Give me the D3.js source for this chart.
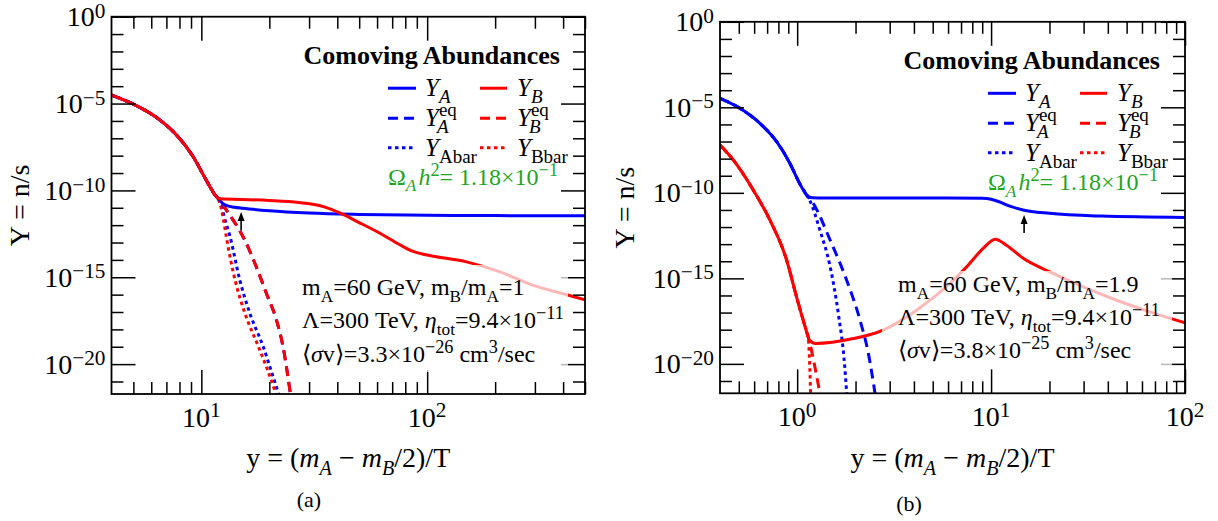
<!DOCTYPE html>
<html><head><meta charset="utf-8">
<script src="https://cdn.jsdelivr.net/npm/d3@7"></script>
<style>
body{margin:0;background:#fff}
svg{display:block}
text{font-family:"Liberation Serif","Times New Roman",serif;fill:#000}
</style>
</head><body>
<svg id="chart" width="1218" height="521"></svg>
<script>
// ================= DATA =================
// y axis (log10 exponents)
const yMajorExp = [0, -5, -10, -15, -20];
const yMinorExp = [-1,-2,-3,-4,-6,-7,-8,-9,-11,-12,-13,-14,-16,-17,-18,-19,-21];
const yLowExp = -21.72;

// panel (a): x axis
const aXDomain = [4, 500];
const aXMajor = [10, 100];
const aXMinor = [5,6,7,8,9,20,30,40,50,60,70,80,90,200,300,400,500];
// panel (b): x axis
const bXDomain = [0.4, 100];
const bXMajor = [1, 10, 100];
const bXMinor = [0.5,0.6,0.7,0.8,0.9,2,3,4,5,6,7,8,9,20,30,40,50,60,70,80,90];

// ---- panel (a): mB/mA = 1 ; values are log10(Y) ----
const a_early_x   = [4, 5.08, 6.56, 7.76, 9.2, 10.5, 11.5];
const a_early_lgY = [-4.51, -5.08, -5.95, -6.81, -8.06, -9.40, -10.26];
const a_YA_x   = [11.9, 12.3, 12.8, 14, 15.3, 20, 30, 50, 100, 200, 500];
const a_YA_lgY = [-10.45, -10.7, -10.85, -10.97, -11.03, -11.17, -11.3, -11.38, -11.43, -11.45, -11.46];
const a_YB_x   = [11.9, 12.5, 15, 20, 27, 35, 41, 50, 61.5, 75, 86, 100, 148, 209, 293, 400, 500];
const a_YB_lgY = [-10.45, -10.5, -10.52, -10.58, -10.7, -10.95, -11.3, -11.85, -12.45, -13.1, -13.5, -13.72, -14.1, -14.68, -15.45, -15.95, -16.3];
const a_eq_x   = [12.1, 13.2, 15.3, 17.5, 19.4, 21.5, 23.0, 24.8];
const a_eq_lgY = [-10.6, -11.32, -12.67, -14.39, -15.92, -17.46, -19.0, -21.72];
const a_Abar_x   = [12.1, 12.8, 13.4, 14.8, 16.4, 18.8, 20.4, 22.0];
const a_Abar_lgY = [-10.7, -11.8, -12.67, -15.16, -17.08, -19.0, -20.4, -21.72];
const a_Bbar_x   = [12.0, 12.5, 12.9, 14.1, 15.6, 17.9, 19.6, 21.4];
const a_Bbar_lgY = [-10.6, -11.6, -12.67, -15.16, -17.08, -19.0, -20.3, -21.72];
const a_arrow = [15, -11.25, -12.3]; // x, tip, tail

// ---- panel (b): mB/mA = 1.9 ----
const b_Aearly_x   = [0.4, 0.507, 0.643, 0.784, 0.918, 1.03, 1.12];
const b_Aearly_lgY = [-4.48, -5.06, -5.94, -7.01, -8.28, -9.45, -10.13];
const b_YA_x   = [1.2, 1.4, 3, 6, 9, 10, 11, 12.5, 14.6, 20, 37, 100];
const b_YA_lgY = [-10.29, -10.3, -10.3, -10.3, -10.32, -10.38, -10.52, -10.78, -11.0, -11.2, -11.36, -11.44];
const b_YAeq_x   = [1.21, 1.48, 1.80, 2.11, 2.33, 2.52];
const b_YAeq_lgY = [-10.62, -12.77, -15.11, -17.45, -19.4, -21.72];
const b_Abar_x   = [1.16, 1.31, 1.48, 1.63, 1.76, 1.80];
const b_Abar_lgY = [-10.43, -12.18, -14.33, -17.06, -20.18, -21.72];
const b_Bearly_x   = [0.4, 0.469, 0.594, 0.724, 0.883, 0.993, 1.10];
const b_Bearly_lgY = [-7.21, -8.09, -9.84, -11.6, -13.94, -16.09, -17.84];
const b_YB_x   = [1.16, 1.24, 1.95, 2.67, 4.13, 6.13, 7.48, 9.1, 10.5, 12.0, 14.7, 20.1, 29.9, 44.4, 65.9, 100];
const b_YB_lgY = [-18.62, -18.81, -18.52, -18.1, -16.86, -15.3, -14.33, -13.25, -12.71, -13.06, -13.84, -14.62, -15.5, -16.28, -16.96, -17.6];
const b_YBeq_x   = [1.14, 1.19, 1.25, 1.31];
const b_YBeq_lgY = [-18.43, -19.3, -20.5, -21.72];
const b_Bbar_x   = [1.14, 1.155, 1.165, 1.172];
const b_Bbar_lgY = [-18.43, -19.5, -20.6, -21.72];
const b_arrow = [14.8, -11.3, -12.35];

// text
const legendTitle = "Comoving Abundances";
const relicText = "1.18×10";
const relicExp = "−1";
const aParams = ["60", "1", "300", "9.4", "−11", "3.3", "−26"];
const bParams = ["60", "1.9", "300", "9.4", "−11", "3.8", "−25"];

// ================= HELPERS =================
const BLUE = "#0000ff", RED = "#ff0000", GREEN = "#1fa51f";
const svg = d3.select("#chart");
const zip = (xs, ys) => xs.map((v, i) => [v, ys[i]]);

function rich(g, x, y, segs, fs, anchor) {
  const t = g.append("text").attr("x", x).attr("y", y)
    .attr("font-size", fs).attr("text-anchor", anchor || "start");
  let cur = 0, lastLen = 0;
  segs.forEach(s => {
    const sh = s.sub ? fs * 0.28 : s.sup ? -fs * (s.up || 0.36) : 0;
    const ts = t.append("tspan").attr("dy", sh - cur).text(s.t);
    cur = sh;
    if (s.sub) ts.attr("font-size", fs * (s.sc || 0.72));
    if (s.sup) ts.attr("font-size", fs * (s.sc || 0.76));
    if (s.it) ts.attr("font-style", "italic");
    if (s.bold) ts.attr("font-weight", "bold");
    if (s.dx) ts.attr("dx", s.dx);
    if (s.back) ts.attr("dx", -lastLen + (s.back2 || 0));
    lastLen = ts.node().getComputedTextLength();
  });
  return t;
}

function drawPanel(P) {
  const g = svg.append("g");
  const x = d3.scaleLog().domain(P.xd).range([P.L, P.R]);
  const y = d3.scaleLog().domain([Math.pow(10, yLowExp), 1]).range([P.B, P.T]);
  const Y = e => y(Math.pow(10, e));

  const clipId = "clip" + P.id;
  g.append("clipPath").attr("id", clipId).append("rect")
    .attr("x", P.L).attr("y", P.T).attr("width", P.R - P.L).attr("height", P.B - P.T);

  const line = d3.line().x(d => x(d[0])).y(d => Y(d[1])).curve(d3.curveMonotoneX);
  const cg = g.append("g").attr("clip-path", `url(#${clipId})`);
  P.series.forEach(s => {
    cg.append("path").attr("d", line(s.pts)).attr("fill", "none")
      .attr("stroke", s.color).attr("stroke-width", 3)
      .attr("stroke-dasharray", s.dash === "dash" ? "10,6" : s.dash === "dot" ? "3.5,3.5" : null)
      .attr("stroke-linejoin", "round");
  });

  // arrow
  const ax = x(P.arrow[0]), tip = Y(P.arrow[1]), tail = Y(P.arrow[2]);
  g.append("line").attr("x1", ax).attr("x2", ax).attr("y1", tail).attr("y2", tip + 6)
    .attr("stroke", "#000").attr("stroke-width", 1.6);
  g.append("path").attr("d", `M${ax},${tip} L${ax - 3.5},${tip + 9} L${ax + 3.5},${tip + 9} Z`).attr("fill", "#000");

  // frame & ticks
  g.append("rect").attr("x", P.L).attr("y", P.T).attr("width", P.R - P.L).attr("height", P.B - P.T)
    .attr("fill", "none").attr("stroke", "#000").attr("stroke-width", 1.8);
  const axG = (sel, tr) => g.append("g").attr("transform", tr).call(sel)
    .call(s => s.select(".domain").remove())
    .call(s => s.selectAll("line").attr("stroke", "#000").attr("stroke-width", 1.5));
  const xM = P.xMajor, xm = P.xMinor;
  const yM = yMajorExp.map(e => Math.pow(10, e)), ym = yMinorExp.map(e => Math.pow(10, e));
  axG(d3.axisBottom(x).tickValues(xM).tickSize(-24).tickFormat(""), `translate(0,${P.B})`);
  axG(d3.axisBottom(x).tickValues(xm).tickSize(-12).tickFormat(""), `translate(0,${P.B})`);
  axG(d3.axisTop(x).tickValues(xM).tickSize(-24).tickFormat(""), `translate(0,${P.T})`);
  axG(d3.axisTop(x).tickValues(xm).tickSize(-12).tickFormat(""), `translate(0,${P.T})`);
  axG(d3.axisLeft(y).tickValues(yM).tickSize(-24).tickFormat(""), `translate(${P.L},0)`);
  axG(d3.axisLeft(y).tickValues(ym).tickSize(-12).tickFormat(""), `translate(${P.L},0)`);
  axG(d3.axisRight(y).tickValues(yM).tickSize(-24).tickFormat(""), `translate(${P.R},0)`);
  axG(d3.axisRight(y).tickValues(ym).tickSize(-12).tickFormat(""), `translate(${P.R},0)`);

  // tick labels
  const FS = 28;
  xM.forEach(v => {
    rich(g, x(v), P.B + 33, [{t: "10"}, {t: String(Math.round(Math.log10(v))), sup: 1, up: 0.34}], FS, "middle");
  });
  yMajorExp.forEach(e => {
    rich(g, P.L - 6, Y(e) + 9.5, [{t: "10"}, {t: e === 0 ? "0" : "−" + (-e), sup: 1, up: 0.3}], FS, "end");
  });

  // axis titles
  rich(g, (P.L + P.R) / 2, 467, [{t: "y = ("}, {t: "m", it: 1}, {t: "A", sub: 1, it: 1},
    {t: " − "}, {t: "m", it: 1}, {t: "B", sub: 1, it: 1}, {t: "/2)/T"}], 28, "middle");
  g.append("text").attr("transform", `translate(${P.yTitleX},${(P.T + P.B) / 2}) rotate(-90)`)
    .attr("text-anchor", "middle").attr("font-size", 28).text("Y = n/s");
  g.append("text").attr("x", P.capX).attr("y", P.capY).attr("text-anchor", "middle")
    .attr("font-size", 22).attr("font-family", "DejaVu Serif, serif").text(P.caption);

  // legend
  const LX = P.R;
  rich(g, LX - 25, P.T + 47, [{t: legendTitle, bold: 1}], 26, "end");
  const rows = [P.T + 71.5, P.T + 101.5, P.T + 131];
  const cols = [[LX - 197, LX - 169, LX - 160, BLUE, "A"], [LX - 105, LX - 78, LX - 68, RED, "B"]];
  cols.forEach(c => {
    const [x1, x2, lx, col, nm] = c;
    ["none", "dash", "dot"].forEach((ds, i) => {
      g.append("line").attr("x1", x1).attr("x2", x2).attr("y1", rows[i]).attr("y2", rows[i])
        .attr("stroke", col).attr("stroke-width", 3)
        .attr("stroke-dasharray", ds === "dash" ? "10,6" : ds === "dot" ? "3.5,3.5" : null);
    });
    rich(g, lx, rows[0] + 8, [{t: "Y", it: 1}, {t: nm, sub: 1, it: 1, sc: 0.76}], 25);
    rich(g, lx, rows[1] + 8, [{t: "Y", it: 1}, {t: "eq", sup: 1, up: 0.4}, {t: nm, sub: 1, it: 1, sc: 0.76, back: 1, back2: -2}], 25);
    rich(g, lx, rows[2] + 8, [{t: "Y", it: 1}, {t: nm + "bar", sub: 1, sc: 0.76}], 25);
  });
  const gt = rich(g, LX - 197, P.T + 168, [{t: "Ω"}, {t: "A", sub: 1, it: 1}, {t: "h", it: 1, dx: 2},
    {t: "2", sup: 1}, {t: "= " + relicText}, {t: relicExp, sup: 1}], 24);
  gt.selectAll("tspan").attr("fill", GREEN);

  // parameter box
  g.append("rect").attr("x", P.box[0]).attr("y", P.box[1]).attr("width", P.box[2] - P.box[0])
    .attr("height", P.box[3] - P.box[1]).attr("fill", "#fff").attr("fill-opacity", 0.72);
  const p = P.params, tx = P.textX;
  rich(g, tx, P.textY[0], [{t: "m"}, {t: "A", sub: 1}, {t: "=" + p[0] + " GeV, m"}, {t: "B", sub: 1},
    {t: "/m"}, {t: "A", sub: 1}, {t: "=" + p[1]}], 24);
  rich(g, tx, P.textY[1], [{t: "Λ=" + p[2] + " TeV, "}, {t: "η", it: 1}, {t: "tot", sub: 1},
    {t: "=" + p[3] + "×10"}, {t: p[4], sup: 1}], 24);
  rich(g, tx, P.textY[2], [{t: "⟨"}, {t: "σ", it: 1}, {t: "v⟩=" + p[5] + "×10"}, {t: p[6], sup: 1},
    {t: " cm"}, {t: "3", sup: 1}, {t: "/sec"}], 24);
}

const aEarly = zip(a_early_x, a_early_lgY);
const bAE = zip(b_Aearly_x, b_Aearly_lgY);
const bBE = zip(b_Bearly_x, b_Bearly_lgY);

drawPanel({
  id: "a", L: 111.5, R: 585, T: 16.7, B: 394, xd: aXDomain, xMajor: aXMajor, xMinor: aXMinor,
  yTitleX: 29, capX: 309, capY: 507, caption: "(a)", arrow: a_arrow,
  box: [292, 265, 568, 372], textX: 302, textY: [295, 328, 362], params: aParams,
  series: [
    {pts: aEarly.concat(zip(a_eq_x, a_eq_lgY)), color: BLUE, dash: "dash"},
    {pts: aEarly.concat(zip(a_eq_x, a_eq_lgY)), color: RED, dash: "dash"},
    {pts: aEarly.concat(zip(a_Abar_x, a_Abar_lgY)), color: BLUE, dash: "dot"},
    {pts: aEarly.concat(zip(a_Bbar_x, a_Bbar_lgY)), color: RED, dash: "dot"},
    {pts: aEarly.concat(zip(a_YA_x, a_YA_lgY)), color: BLUE},
    {pts: aEarly.concat(zip(a_YB_x, a_YB_lgY)), color: RED}
  ]
});
drawPanel({
  id: "b", L: 720, R: 1185, T: 21.8, B: 393.3, xd: bXDomain, xMajor: bXMajor, xMinor: bXMinor,
  yTitleX: 634, capX: 909, capY: 511, caption: "(b)", arrow: b_arrow,
  box: [882, 271, 1172, 368], textX: 898, textY: [292, 325, 358], params: bParams,
  series: [
    {pts: bAE.concat(zip(b_YAeq_x, b_YAeq_lgY)), color: BLUE, dash: "dash"},
    {pts: bAE.concat(zip(b_Abar_x, b_Abar_lgY)), color: BLUE, dash: "dot"},
    {pts: bBE.concat(zip(b_YBeq_x, b_YBeq_lgY)), color: RED, dash: "dash"},
    {pts: bBE.concat(zip(b_Bbar_x, b_Bbar_lgY)), color: RED, dash: "dot"},
    {pts: bAE.concat(zip(b_YA_x, b_YA_lgY)), color: BLUE},
    {pts: bBE.concat(zip(b_YB_x, b_YB_lgY)), color: RED}
  ]
});
</script>
</body></html>
